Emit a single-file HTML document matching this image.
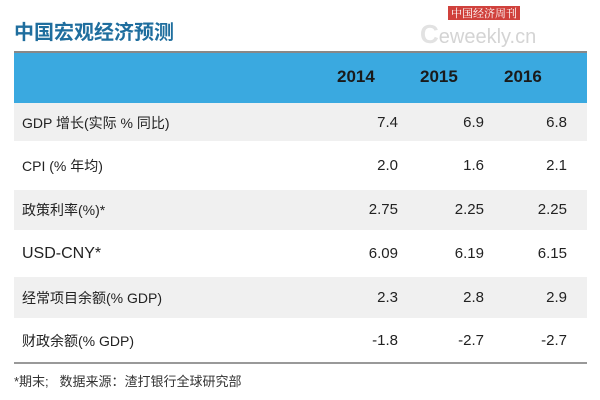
<!DOCTYPE html>
<html><head><meta charset="utf-8"><style>
body{margin:0;width:600px;height:400px;background:#fff;position:relative;overflow:hidden;font-family:"Liberation Sans","Noto Sans CJK SC",sans-serif;}
.t{position:absolute;white-space:nowrap;line-height:20px;}
.row{position:absolute;left:14px;width:573px;}
.lab{position:absolute;left:22px;font-size:14px;color:#222;line-height:20px;white-space:nowrap;}
.n{position:absolute;font-size:15px;color:#222;text-align:right;width:60px;line-height:20px;}
</style></head><body>
<div class="t" style="left:14px;top:21px;font-size:20px;font-weight:bold;color:#1f6e9e;line-height:24px;">中国宏观经济预测</div>
<div class="t" style="left:448px;top:6px;font-size:11px;color:#fff;background:#d0413c;padding:0 3px;line-height:14px;font-family:'Noto Serif CJK SC',serif;">中国经济周刊</div>
<div class="t" style="left:420px;top:20px;font-size:26px;color:#e2e2e2;font-weight:bold;line-height:28px;">C<span style="font-size:20px;font-weight:normal;color:#d4d4d4">eweekly.cn</span></div>
<div class="row" style="top:51px;height:2px;background:#888;"></div>
<div class="row" style="top:53px;height:50px;background:#3aa9e0;"></div>
<div class="t" style="left:337px;top:67px;font-size:17px;font-weight:bold;color:#1a1a1a;">2014</div>
<div class="t" style="left:420px;top:67px;font-size:17px;font-weight:bold;color:#1a1a1a;">2015</div>
<div class="t" style="left:504px;top:67px;font-size:17px;font-weight:bold;color:#1a1a1a;">2016</div>
<div class="row" style="top:103px;height:38px;background:#f0f0f0;"></div>
<div class="row" style="top:190px;height:40px;background:#f0f0f0;"></div>
<div class="row" style="top:277px;height:41px;background:#f0f0f0;"></div>
<div class="row" style="top:362px;height:2px;background:#999;"></div>

<div class="lab" style="top:113px;">GDP 增长(实际 % 同比)</div>
<div class="n" style="left:338px;top:113px;">7.4</div><div class="n" style="left:424px;top:113px;">6.9</div><div class="n" style="left:507px;top:113px;">6.8</div>
<div class="lab" style="top:156px;">CPI (% 年均)</div>
<div class="n" style="left:338px;top:156px;">2.0</div><div class="n" style="left:424px;top:156px;">1.6</div><div class="n" style="left:507px;top:156px;">2.1</div>
<div class="lab" style="top:200px;">政策利率(%)*</div>
<div class="n" style="left:338px;top:200px;">2.75</div><div class="n" style="left:424px;top:200px;">2.25</div><div class="n" style="left:507px;top:200px;">2.25</div>
<div class="lab" style="top:244px;font-size:16px;">USD-CNY*</div>
<div class="n" style="left:338px;top:244px;">6.09</div><div class="n" style="left:424px;top:244px;">6.19</div><div class="n" style="left:507px;top:244px;">6.15</div>
<div class="lab" style="top:288px;">经常项目余额(% GDP)</div>
<div class="n" style="left:338px;top:288px;">2.3</div><div class="n" style="left:424px;top:288px;">2.8</div><div class="n" style="left:507px;top:288px;">2.9</div>
<div class="lab" style="top:331px;">财政余额(% GDP)</div>
<div class="n" style="left:338px;top:331px;">-1.8</div><div class="n" style="left:424px;top:331px;">-2.7</div><div class="n" style="left:507px;top:331px;">-2.7</div>
<div class="t" style="left:14px;top:372px;font-size:13px;color:#333;">*期末;&nbsp;&nbsp;&nbsp;数据来源：渣打银行全球研究部</div>
</body></html>
